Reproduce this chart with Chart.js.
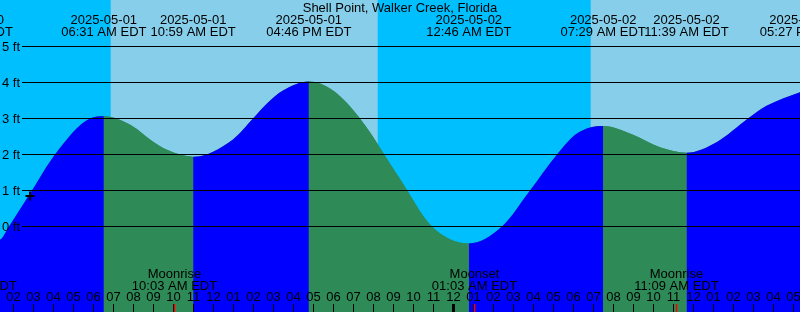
<!DOCTYPE html>
<html>
<head>
<meta charset="utf-8">
<script src="https://cdn.jsdelivr.net/npm/chart.js@4.4.1/dist/chart.umd.min.js"></script>
<style>
  html, body { margin: 0; padding: 0; background: #00bfff; }
  #wrap { width: 800px; height: 312px; position: relative; }
</style>
</head>
<body>
<div id="wrap"><canvas id="tide"></canvas></div>
<script>
// Tide graph, Shell Point, Walker Creek. Times are hours since 2025-05-01 00:00 EDT.
const STATION = 'Shell Point, Walker Creek, Florida';

const tideTimes = [-0.14, 1.325, 1.775, 2.925, 4.075, 5.825, 6.517, 7.975, 8.825, 9.675, 10.983,
  12.975, 13.975, 14.675, 15.475, 16.767, 17.975, 19.325, 21.325,
  22.925, 24.767, 26.425, 27.825, 29.175, 30.175, 31.483, 32.975, 34.325, 35.65, 37.175, 38.725,
  39.675, 41.45];
const tideLevels = [-0.5, -0.37, 0.0, 1.0, 2.0, 3.0, 3.06, 2.78, 2.42, 2.13, 1.94,
  2.42, 3.0, 3.42, 3.78, 4.03, 3.78, 3.0, 1.32,
  0.0, -0.47, 0.0, 1.0, 2.0, 2.58, 2.79, 2.55, 2.2, 2.05, 2.35, 3.0,
  3.36, 3.76];

// high / low tide events shown along the top
const eventTimes = [-0.14, 6.517, 10.983, 16.767, 24.767, 31.483, 35.65, 41.45];
const eventDates = ['2025-04-30', '2025-05-01', '2025-05-01', '2025-05-01', '2025-05-02', '2025-05-02', '2025-05-02', '2025-05-02'];
const eventClock = ['11:52 PM EDT', '06:31 AM EDT', '10:59 AM EDT', '04:46 PM EDT', '12:46 AM EDT', '07:29 AM EDT', '11:39 AM EDT', '05:27 PM EDT'];

// moon events shown along the bottom
const moonTimes = [0.033, 10.05, 25.05, 35.15];
const moonNames = ['Moonset', 'Moonrise', 'Moonset', 'Moonrise'];
const moonClock = ['12:02 AM EDT', '10:03 AM EDT', '01:03 AM EDT', '11:09 AM EDT'];

const sunriseTimes = [6.86, 30.86];
const sunsetTimes = [20.21, 44.2];

const levelTicks = [0, 1, 2, 3, 4, 5];
const levelLabels = ['0 ft', '1 ft', '2 ft', '3 ft', '4 ft', '5 ft'];

const hourTicks = [1, 2, 3, 4, 5, 6, 7, 8, 9, 10, 11, 12, 13, 14, 15, 16, 17, 18, 19, 20, 21, 22, 23, 24,
  25, 26, 27, 28, 29, 30, 31, 32, 33, 34, 35, 36, 37, 38, 39, 40, 41];
const hourLabels = ['01', '02', '03', '04', '05', '06', '07', '08', '09', '10', '11', '12',
  '01', '02', '03', '04', '05', '06', '07', '08', '09', '10', '11', '12',
  '01', '02', '03', '04', '05', '06', '07', '08', '09', '10', '11', '12',
  '01', '02', '03', '04', '05'];
const midnightTicks = [24];

const markTimes = [2.825];
const markLevels = [0.85];

const NIGHT = '#00bfff';
const DAY = '#87ceeb';
const FLOOD = '#0000ff';
const EBB = '#2e8b57';
const FONT = '13px "Liberation Sans", Arial, sans-serif';

const skyPlugin = {
  id: 'sky',
  beforeDatasetsDraw(chart) {
    const { ctx, chartArea: a } = chart;
    const xs = chart.scales.x;
    ctx.save();
    ctx.fillStyle = NIGHT;
    ctx.fillRect(a.left, a.top, a.right - a.left, a.bottom - a.top);
    ctx.fillStyle = DAY;
    sunriseTimes.forEach((t, i) => {
      const x0 = xs.getPixelForValue(t);
      const x1 = xs.getPixelForValue(sunsetTimes[i]);
      ctx.fillRect(x0, a.top, x1 - x0, a.bottom - a.top);
    });
    ctx.restore();
  },
};

const overlayPlugin = {
  id: 'overlay',
  afterDatasetsDraw(chart) {
    const { ctx, chartArea: a } = chart;
    const xs = chart.scales.x;
    const ys = chart.scales.y;
    ctx.save();
    ctx.font = FONT;
    ctx.fillStyle = '#000';
    ctx.strokeStyle = '#000';

    // level grid
    ctx.lineWidth = 1;
    levelTicks.forEach((v, i) => {
      const y = ys.getPixelForValue(v);
      ctx.beginPath();
      ctx.moveTo(22, y);
      ctx.lineTo(a.right, y);
      ctx.stroke();
      ctx.textAlign = 'left';
      ctx.textBaseline = 'middle';
      ctx.fillText(levelLabels[i], 2, y + 0.5);
    });

    // title and tide events
    ctx.textAlign = 'center';
    ctx.textBaseline = 'alphabetic';
    ctx.fillText(STATION, (a.left + a.right) / 2, 12);
    eventTimes.forEach((t, i) => {
      const x = xs.getPixelForValue(t);
      ctx.fillText(eventDates[i], x, 24);
      ctx.fillText(eventClock[i], x, 36);
    });

    // moon events
    moonTimes.forEach((t, i) => {
      const x = xs.getPixelForValue(t);
      ctx.fillText(moonNames[i], x, 278);
      ctx.fillText(moonClock[i], x, 290);
    });

    // hour ticks
    hourTicks.forEach((h, i) => {
      const x = xs.getPixelForValue(h);
      ctx.fillText(hourLabels[i], x, 301);
      ctx.lineWidth = midnightTicks.includes(h) ? 3 : 1;
      ctx.beginPath();
      ctx.moveTo(x, 304);
      ctx.lineTo(x, a.bottom);
      ctx.stroke();
    });
    ctx.strokeStyle = '#ff0000';
    ctx.lineWidth = 1.5;
    moonTimes.forEach((t) => {
      const x = xs.getPixelForValue(t);
      ctx.beginPath();
      ctx.moveTo(x, 304);
      ctx.lineTo(x, a.bottom);
      ctx.stroke();
    });
    ctx.restore();
  },
};

const tidePoints = tideTimes.map((t, i) => ({ x: t, y: tideLevels[i] }));

new Chart(document.getElementById('tide'), {
  type: 'line',
  data: {
    datasets: [
      {
        type: 'scatter',
        data: markTimes.map((t, i) => ({ x: t, y: markLevels[i] })),
        pointStyle: 'cross',
        radius: 4.5,
        borderColor: '#000',
        borderWidth: 2,
        order: 0,
      },
      {
        // rising water blue, falling water green
        data: tidePoints,
        cubicInterpolationMode: 'monotone',
        fill: 'start',
        backgroundColor: FLOOD,
        borderColor: 'rgba(0,0,0,0)',
        borderWidth: 0,
        pointRadius: 0,
        segment: {
          backgroundColor: (c) => (c.p1.parsed.y >= c.p0.parsed.y ? FLOOD : EBB),
        },
        order: 1,
      },
      {
        // plain underlay so the joins between coloured parts show no seam
        data: tidePoints,
        cubicInterpolationMode: 'monotone',
        fill: 'start',
        backgroundColor: EBB,
        borderColor: 'rgba(0,0,0,0)',
        borderWidth: 0,
        pointRadius: 0,
        order: 2,
      },
    ],
  },
  options: {
    responsive: true,
    maintainAspectRatio: false,
    animation: false,
    events: [],
    layout: { padding: 0, autoPadding: false },
    scales: {
      x: { type: 'linear', min: 1.325, max: 41.325, display: false },
      y: { min: -2.375, max: 6.2917, display: false },
    },
    plugins: { legend: { display: false }, tooltip: { enabled: false }, title: { display: false } },
  },
  plugins: [skyPlugin, overlayPlugin],
});
</script>
</body>
</html>
